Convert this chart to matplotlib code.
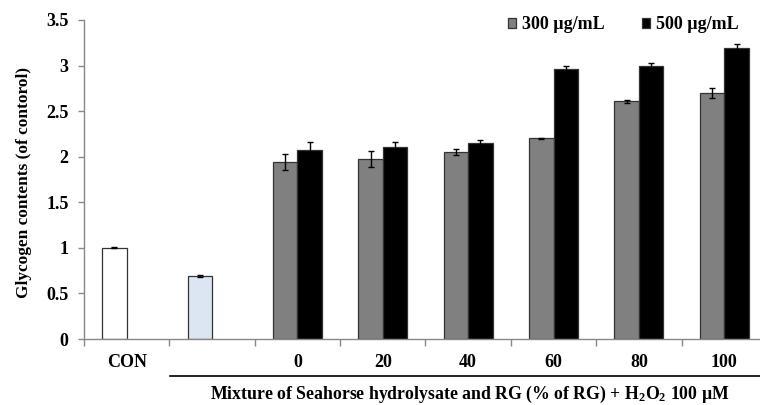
import matplotlib
matplotlib.use("Agg")
import matplotlib.pyplot as plt
import numpy as np

categories = ["CON", "", "0", "20", "40", "60", "80", "100"]
ctrl_values = [1.00, 0.69]
ctrl_errors = [0.004, 0.012]
ctrl_colors = ["#ffffff", "#dce6f2"]
s300 = [1.945, 1.975, 2.05, 2.20, 2.608, 2.70]
s300_err = [0.09, 0.085, 0.035, 0.005, 0.015, 0.055]
s500 = [2.07, 2.11, 2.147, 2.963, 2.99, 3.19]
s500_err = [0.095, 0.05, 0.04, 0.03, 0.036, 0.044]
series_labels = ["300 µg/mL", "500 µg/mL"]
yticks = [0, 0.5, 1, 1.5, 2, 2.5, 3, 3.5]
ytick_labels = ["0", "0.5", "1", "1.5", "2", "2.5", "3", "3.5"]

plt.rcParams["font.family"] = ["Liberation Serif", "DejaVu Serif"]
plt.rcParams["font.weight"] = "bold"
plt.rcParams["mathtext.fontset"] = "custom"
plt.rcParams["mathtext.rm"] = "Liberation Serif:bold"
plt.rcParams["mathtext.bf"] = "Liberation Serif:bold"
plt.rcParams["mathtext.it"] = "Liberation Serif:bold"
plt.rcParams["mathtext.default"] = "rm"

fig = plt.figure(figsize=(7.6, 4.05), dpi=100)
ax = fig.add_axes([84/760, 1-339/405, (767-84)/760, (339-20)/405])

w = 0.2875
x = np.arange(len(categories))
ekw = dict(ecolor="black", elinewidth=1, capsize=2.2, capthick=1)

# control bars (left slot)
ax.bar(x[:2] - w/2, ctrl_values, width=w, color=ctrl_colors, edgecolor="#333333",
       linewidth=0.9, yerr=ctrl_errors, error_kw=ekw, zorder=2)
xs = x[2:]
b1 = ax.bar(xs - w/2, s300, width=w, color="#808080", edgecolor="#333333",
            linewidth=0.9, yerr=s300_err, error_kw=ekw, zorder=2, label=series_labels[0])
b2 = ax.bar(xs + w/2, s500, width=w, color="#000000", edgecolor="#333333",
            linewidth=0.9, yerr=s500_err, error_kw=ekw, zorder=2, label=series_labels[1])

ax.set_xlim(-0.5, len(categories) - 0.5)
ax.set_ylim(0, 3.5)
ax.set_yticks(yticks)
ax.set_yticklabels(ytick_labels, fontsize=13, fontweight="bold")
ax.set_xticks(x)
ax.set_xticklabels(categories, fontsize=13, fontweight="bold")
ax.tick_params(axis="x", which="major", length=0, pad=11)
ax.set_xticks(np.arange(len(categories) + 1) - 0.5, minor=True)
ax.tick_params(axis="x", which="minor", length=5, color="#888888", width=1)
ax.tick_params(axis="y", length=4, color="#888888", width=1, pad=7)

for s in ["top", "right"]:
    ax.spines[s].set_visible(False)
for s in ["left", "bottom"]:
    ax.spines[s].set_color("#888888")
    ax.spines[s].set_linewidth(1)

fig.text(24/760, 1-182/405, "Glycogen contents (of contorol)", rotation=90,
         ha="center", va="center", fontsize=12.4, fontweight="bold")

leg = ax.legend(handles=[b1, b2], loc="upper right", bbox_to_anchor=(755/760, 1 - 0/405),
                bbox_transform=fig.transFigure, ncol=2, frameon=False,
                prop={"family": "Liberation Serif", "weight": "bold", "size": 13},
                handlelength=0.45, handleheight=0.45, handletextpad=0.35, columnspacing=2.05)

# group line and label
fig.add_artist(plt.Line2D([170/760, 760/760], [1-376/405, 1-376/405], color="black",
                          linewidth=1.2, transform=fig.transFigure))
fig.text(470/760, 1-394/405, "Mixture of Seahorse hydrolysate and RG (% of RG) + H$_2$O$_2$ 100 µM",
         ha="center", va="center", fontsize=12.8, fontweight="bold")

fig.savefig("out.png", dpi=100)
